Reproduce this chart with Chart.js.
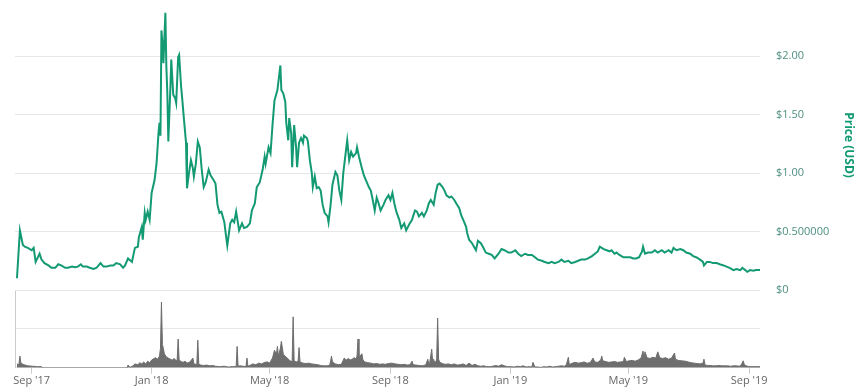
<!DOCTYPE html>
<html>
<head>
<meta charset="utf-8">
<script src="https://cdn.jsdelivr.net/npm/chart.js@4"></script>
<style>
	html, body { margin: 0; padding: 0; background: #fff; }
	#wrap { position: relative; width: 862px; height: 392px; overflow: hidden; }
	#price-box { position: absolute; left: 0; top: 0; width: 862px; height: 298px; }
	#volume-box { position: absolute; left: 0; top: 285px; width: 862px; height: 107px; }
</style>
</head>
<body>
<div id="wrap">
	<div id="volume-box"><canvas id="volume-canvas"></canvas></div>
	<div id="price-box"><canvas id="price-canvas"></canvas></div>
</div>
<script>
// days counted from the first data point
const startDate = "2017-08-17";

const priceDay = [0,3,6,8,11,15,17,19,23,25,28,32,35,39,42,45,49,52,56,59,62,65,67,71,74,78,81,85,88,91,95,98,101,105,108,110,113,117,120,123,124,127,128,130,131,133,135,137,140,142,144,145,146,147,148,149,151,152,153,154,156,157,159,161,162,164,165,167,168,170,172,173,175,177,179,180,182,184,186,188,190,192,195,197,200,202,204,206,208,211,212,214,217,219,221,223,226,229,231,234,237,239,242,244,247,250,252,253,256,258,260,262,263,265,268,269,271,273,274,276,277,279,280,282,284,285,287,289,291,292,295,296,298,300,301,303,305,307,309,311,313,316,317,319,321,324,326,328,330,332,334,336,338,340,342,345,346,348,351,353,356,358,360,362,364,366,368,370,373,375,378,380,382,384,386,389,391,394,396,399,402,403,405,407,409,412,414,417,419,421,424,426,428,430,433,435,437,440,442,445,447,450,452,455,457,458,460,463,465,467,469,472,474,477,480,483,486,490,493,496,500,503,507,510,513,517,520,524,527,530,534,537,541,544,547,551,554,557,561,564,568,571,574,578,581,585,588,591,593,595,597,600,603,605,608,610,613,617,620,624,627,630,633,636,637,639,642,646,649,652,656,659,663,666,668,671,675,678,681,685,688,691,695,698,699,702,705,708,712,715,719,722,725,729,732,736,738,741,743,746,749,752,756];

const priceUsd = [0.10,0.51,0.385,0.37,0.36,0.34,0.36,0.24,0.31,0.26,0.23,0.21,0.19,0.19,0.22,0.21,0.19,0.19,0.20,0.195,0.20,0.22,0.20,0.20,0.19,0.18,0.19,0.23,0.20,0.20,0.21,0.21,0.23,0.22,0.19,0.21,0.27,0.24,0.36,0.37,0.45,0.54,0.43,0.66,0.60,0.67,0.60,0.83,0.94,1.08,1.34,1.43,1.32,2.22,2.11,1.94,2.37,1.91,1.68,1.27,1.71,1.97,1.67,1.64,1.60,1.99,2.01,1.74,1.65,1.45,1.26,0.87,1.00,1.11,1.04,0.97,1.08,1.27,1.22,1.03,0.88,0.92,1.03,0.98,0.94,0.91,0.73,0.66,0.67,0.58,0.51,0.38,0.57,0.60,0.58,0.67,0.51,0.57,0.53,0.54,0.57,0.68,0.74,0.88,0.92,1.03,1.14,1.08,1.22,1.17,1.41,1.62,1.65,1.71,1.92,1.71,1.68,1.61,1.43,1.28,1.47,1.34,1.05,1.41,1.22,1.05,1.26,1.30,1.26,1.32,1.30,1.27,1.11,1.00,0.88,0.97,0.87,0.88,0.85,0.73,0.66,0.63,0.58,0.72,0.90,1.01,0.98,0.85,0.77,1.00,1.14,1.28,1.11,1.18,1.14,1.17,1.22,1.14,1.04,0.98,0.92,0.88,0.85,0.77,0.68,0.79,0.74,0.68,0.73,0.77,0.81,0.77,0.83,0.74,0.67,0.60,0.53,0.57,0.51,0.56,0.60,0.63,0.68,0.67,0.63,0.66,0.63,0.68,0.74,0.77,0.73,0.83,0.90,0.91,0.88,0.85,0.81,0.79,0.80,0.77,0.74,0.70,0.64,0.58,0.54,0.49,0.43,0.40,0.37,0.34,0.42,0.40,0.37,0.32,0.31,0.30,0.27,0.31,0.35,0.34,0.32,0.32,0.34,0.31,0.29,0.31,0.30,0.30,0.28,0.26,0.25,0.24,0.23,0.24,0.23,0.24,0.26,0.24,0.25,0.23,0.24,0.25,0.26,0.26,0.27,0.29,0.31,0.33,0.37,0.36,0.35,0.34,0.33,0.34,0.31,0.32,0.30,0.28,0.28,0.28,0.27,0.27,0.28,0.33,0.37,0.31,0.32,0.32,0.34,0.32,0.34,0.32,0.34,0.32,0.36,0.34,0.35,0.34,0.32,0.31,0.29,0.28,0.26,0.24,0.21,0.24,0.24,0.23,0.23,0.22,0.21,0.20,0.19,0.17,0.18,0.17,0.19,0.17,0.155,0.17,0.165,0.17,0.17];

const volumeDay = [0,2,3,4,7,11,16,21,25,26,112,113,115,118,120,123,125,127,129,131,133,135,137,139,141,143,145,146,147,148,149,150,152,154,156,158,160,162,163,164,165,167,169,171,173,176,179,180,182,183,184,185,187,190,193,196,199,202,206,211,215,219,223,224,225,227,230,233,234,235,237,240,243,246,249,252,255,257,260,262,264,265,266,268,269,271,273,275,277,279,280,281,282,284,286,287,288,291,294,297,300,303,306,309,312,315,318,319,320,321,324,327,330,333,335,337,339,341,343,345,346,347,348,349,351,352,354,357,360,363,366,369,372,375,378,381,385,388,391,394,397,400,402,403,406,409,412,414,416,418,419,420,422,423,424,425,427,428,429,430,432,434,436,439,442,445,448,451,454,457,460,463,466,469,472,475,478,481,484,487,490,493,496,499,502,506,509,512,515,518,521,524,525,527,530,533,536,539,542,545,548,551,554,557,559,561,562,565,568,571,574,577,580,583,585,586,588,591,594,595,596,599,602,605,608,611,614,617,618,620,623,626,629,632,635,637,638,639,641,644,647,650,652,654,657,660,663,666,669,670,673,676,680,683,686,689,692,695,698,699,700,702,705,708,711,714,717,720,723,726,729,732,735,737,739,740,743,746,749,752,756];

// trading volume, millions USD
const volumeUsd = [1.0,0.8,3.0,1.2,0.8,0.5,0.4,0.3,0.3,0,0,0.7,0.1,0.5,1.0,0.8,1.3,1.0,1.5,1.0,1.7,1.3,2.0,2.3,2.6,2.2,3.0,5.0,16.9,6.0,4.9,3.6,2.8,2.5,2.2,2.0,2.4,1.8,2.0,7.4,2.0,1.6,1.4,1.7,1.2,1.5,2.5,1.0,0.9,0.8,7.1,0.9,0.7,0.6,0.7,0.5,0.6,0.4,0.3,0.4,0.2,0.3,0.3,5.5,0.4,0.5,0.4,0.3,2.5,0.4,0.6,1.0,0.8,1.2,1.0,1.4,1.5,1.2,2.5,4.5,3.5,5.5,3.0,5.0,6.8,3.5,3.0,2.5,2.0,1.6,1.8,13.1,1.8,1.5,1.6,5.2,1.5,1.2,1.1,1.2,1.0,0.9,0.8,0.6,0.5,0.5,0.6,1.5,3.0,1.5,1.0,0.8,0.9,2.5,2.0,2.4,2.0,2.2,2.6,2.3,3.0,7.4,2.5,3.0,3.6,2.0,1.5,1.3,1.2,1.0,1.1,0.9,1.0,0.9,1.1,1.2,1.0,0.9,0.8,0.9,0.7,0.8,1.7,0.8,0.7,0.6,0.5,0.6,0.8,2.2,1.0,1.4,4.8,1.5,2.2,1.2,2.0,12.8,2.2,1.5,1.2,1.0,0.9,1.0,0.8,1.0,0.7,0.8,1.0,0.6,1.2,0.6,0.9,0.5,0.4,0.5,0.3,0.3,0.4,0.6,0.4,0.8,0.5,0.3,0.3,0.2,0.4,0.3,0.5,0.2,0.3,0.2,1.4,0.2,0.2,0.1,0.3,0.2,0.4,0.2,0.3,0.4,0.5,0.4,0.8,2.7,0.8,1.2,1.4,1.2,1.3,1.5,1.2,1.3,2.0,2.5,1.5,1.4,2.0,3.0,1.8,1.6,1.4,1.5,1.6,1.4,1.5,1.6,2.7,1.6,1.8,1.9,1.7,2.0,2.5,4.3,2.5,4.1,2.6,2.4,2.7,2.5,4.1,2.6,2.4,2.6,2.2,2.5,3.8,2.2,1.9,1.8,1.7,1.5,1.3,1.2,1.1,1.0,1.2,2.2,0.8,0.6,0.6,0.5,0.5,0.6,0.5,0.5,0.5,0.4,0.5,0.5,0.4,0.8,1.8,0.8,0.4,0.3,0.3,0.3,0.3];

const tickDates = ["2017-09-01", "2018-01-01", "2018-05-01", "2018-09-01", "2019-01-01", "2019-05-01", "2019-09-01"];
const tickLabels = ["Sep '17", "Jan '18", "May '18", "Sep '18", "Jan '19", "May '19", "Sep '19"];
const priceTickLabels = ["$0", "$0.500000", "$1.00", "$1.50", "$2.00"];

const dayMs = 24 * 60 * 60 * 1000;
const tickDay = tickDates.map((d) => Math.round((Date.parse(d) - Date.parse(startDate)) / dayMs));

Chart.defaults.font.family = "'Open Sans', sans-serif";
Chart.defaults.animation = false;

const priceCanvas = document.getElementById("price-canvas").getContext("2d");
const volumeCanvas = document.getElementById("volume-canvas").getContext("2d");

const priceChart = new Chart(priceCanvas, {
	type: "line",
	data: {
		datasets: [
			{
				data: priceDay.map((d, i) => ({ x: d, y: priceUsd[i] })),
				borderColor: "#139a73",
				borderWidth: 2,
				pointRadius: 0,
				tension: 0,
			},
		],
	},
	options: {
		responsive: true,
		maintainAspectRatio: false,
		layout: { padding: { left: 15, right: 0, top: 0, bottom: 8 } },
		plugins: {
			legend: { display: false },
			tooltip: { enabled: false },
		},
		scales: {
			x: { type: "linear", min: -2, max: 756, display: false },
			y: {
				position: "right",
				min: 0,
				max: 2.48,
				ticks: {
					stepSize: 0.5,
					includeBounds: false,
					padding: 16,
					color: "#4f8f80",
					font: { size: 11 },
					callback: (v, i) => priceTickLabels[i],
				},
				grid: { color: "#e6e6e6", drawTicks: false },
				border: { display: false },
				title: {
					display: true,
					text: "Price (USD)",
					color: "#0f9a72",
					font: { size: 12, weight: "bold" },
					padding: { top: 6, bottom: 0 },
				},
				afterFit: (scale) => {
					scale.width = 102;
					scale.paddingTop = 0;
					scale.paddingBottom = 0;
				},
			},
		},
	},
});

const volumeChart = new Chart(volumeCanvas, {
	type: "line",
	data: {
		datasets: [
			{
				data: volumeDay.map((d, i) => ({ x: d, y: volumeUsd[i] })),
				borderColor: "#6e6e6e",
				backgroundColor: "#6e6e6e",
				borderWidth: 1,
				pointRadius: 0,
				tension: 0,
				fill: "origin",
			},
		],
	},
	options: {
		responsive: true,
		maintainAspectRatio: false,
		layout: { padding: { left: 15, right: 102, top: 5, bottom: 5 } },
		plugins: {
			legend: { display: false },
			tooltip: { enabled: false },
		},
		scales: {
			x: {
				type: "linear",
				min: -2,
				max: 756,
				afterBuildTicks: (scale) => {
					scale.ticks = tickDay.map((v) => ({ value: v }));
				},
				ticks: {
					autoSkip: false,
					maxRotation: 0,
					padding: 0,
					color: "#666",
					font: { size: 11 },
					callback: (v, i) => tickLabels[i],
				},
				grid: { drawOnChartArea: false, tickLength: 6, color: "#ccc" },
				border: { display: false },
			},
			y: {
				min: 0,
				max: 20,
				ticks: { stepSize: 10, display: false },
				grid: { color: "#e6e6e6", drawTicks: false },
				border: { display: true, color: "#ccc" },
				afterFit: (scale) => {
					scale.width = 0;
				},
			},
		},
	},
});
</script>
</body>
</html>
